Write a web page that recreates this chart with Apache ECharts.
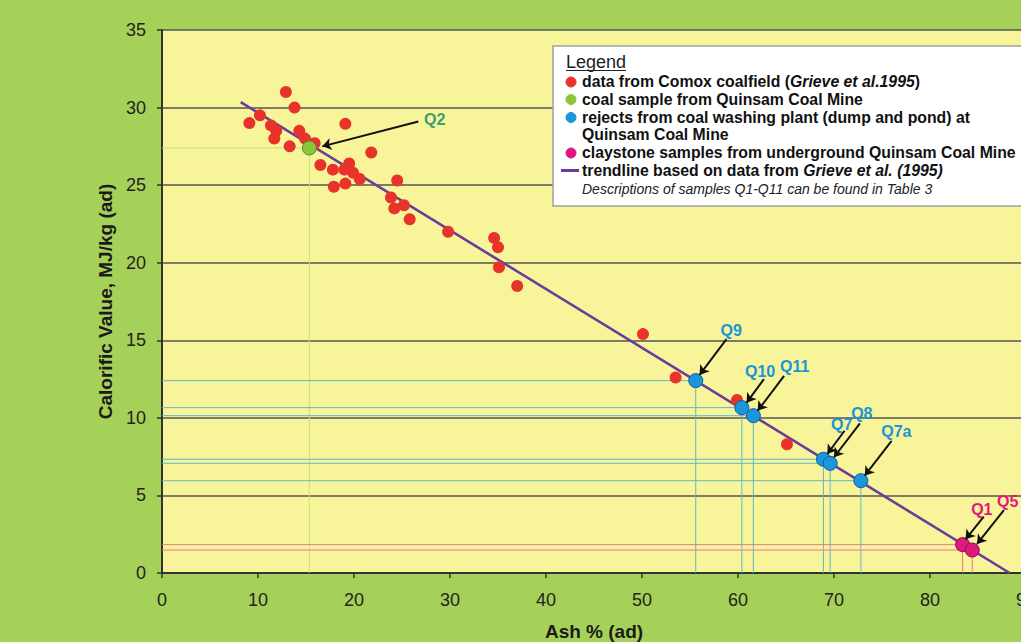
<!DOCTYPE html>
<html>
<head>
<meta charset="utf-8">
<script src="https://cdn.jsdelivr.net/npm/echarts@6/dist/echarts.min.js"></script>
<style>
html,body{margin:0;padding:0;background:#A6D158;}
#chart{width:1021px;height:642px;}
</style>
</head>
<body>
<div id="chart"></div>
<script>
// ---- data ----
const comoxAsh = [9.1,10.2,12.9,13.8,11.35,11.9,11.7,13.3,14.3,14.9,15.9,19.1,16.5,17.8,19.0,19.5,19.9,20.6,17.9,19.1,21.8,24.5,23.85,25.2,24.2,25.8,29.8,34.6,35.0,35.1,37.0,50.1,53.5,59.9,65.1];
const comoxCV  = [29.0,29.5,31.0,30.0,28.85,28.5,28.0,27.5,28.5,28.0,27.7,28.95,26.3,26.0,26.0,26.4,25.8,25.4,24.9,25.1,27.1,25.3,24.2,23.7,23.5,22.8,22.0,21.6,21.0,19.7,18.5,15.4,12.6,11.15,8.3];

const coalNames = ['Q2'];
const coalAsh = [15.35];
const coalCV = [27.4];

const rejectNames = ['Q9','Q10','Q11','Q7','Q8','Q7a'];
const rejectAsh = [55.6,60.4,61.6,68.9,69.6,72.8];
const rejectCV  = [12.4,10.66,10.14,7.33,7.07,5.95];

const clayNames = ['Q1','Q5'];
const clayAsh = [83.4,84.4];
const clayCV  = [1.83,1.48];

const trendAsh = [8.2, 88.3];
const trendCV  = [30.35, 0];

// annotation labels (data units) and arrows (tail -> head, data units)
const annoNames = ['Q2','Q9','Q10','Q11','Q7','Q8','Q7a','Q1','Q5'];
const annoGroup = ['coal','reject','reject','reject','reject','reject','reject','clay','clay'];
const annoLabelX = [28.4,59.3,62.3,65.9,70.8,72.9,76.5,85.4,88.1];
const annoLabelY = [29.2,15.6,13.0,13.3,9.6,10.25,9.1,4.1,4.6];
const arrowTailX = [26.7,58.8,62.7,64.8,71.1,72.7,76.0,85.6,87.7];
const arrowTailY = [29.1,15.07,12.5,12.7,9.17,9.65,8.51,3.63,4.06];
const arrowHeadX = [16.7,56.0,60.9,62.05,69.3,70.0,73.2,83.7,84.9];
const arrowHeadY = [27.5,12.77,10.98,10.46,7.67,7.46,6.27,2.17,1.87];

const xTicks = {min:0, max:90, interval:10};
const yTicks = {min:0, max:35, interval:5};

// ---- styles ----
const FONT = '"Liberation Sans", Arial, sans-serif';
const colors = {
  comox:'#E8332A',
  coal:'#8CC63F', coalBorder:'#4B8B22', coalText:'#3E9E73', coalDrop:'#C5E27C',
  reject:'#1C96DA', rejectBorder:'#0D5E9C', rejectText:'#1A95D6', rejectDrop:'#62B8C6',
  clay:'#E0177F', clayBorder:'#8E0E50', clayText:'#E0197D', clayDrop:'#E8788C',
  trend:'#6A3E98'
};

function zip(a,b){return a.map((v,i)=>[v,b[i]]);}

function dropSeries(xs, ys, color){
  return xs.map((x,i)=>({
    type:'line', silent:true, symbol:'none', z:1,
    lineStyle:{color:color, width:1},
    data:[[0,ys[i]],[x,ys[i]],[x,0]],
    animation:false
  }));
}

const textColorOf = {coal:colors.coalText, reject:colors.rejectText, clay:colors.clayText};

const series = [].concat(
  dropSeries(coalAsh, coalCV, colors.coalDrop),
  dropSeries(rejectAsh, rejectCV, colors.rejectDrop),
  dropSeries(clayAsh, clayCV, colors.clayDrop),
  [{
    type:'line', name:'trend', symbol:'none', z:3, silent:true,
    lineStyle:{color:colors.trend, width:2.6},
    data: zip(trendAsh, trendCV), animation:false
  },{
    type:'scatter', name:'comox', z:4, symbolSize:12,
    itemStyle:{color:colors.comox, opacity:1},
    data: zip(comoxAsh, comoxCV), animation:false
  },{
    type:'scatter', name:'coal', z:5, symbolSize:14,
    itemStyle:{color:colors.coal, borderColor:colors.coalBorder, borderWidth:1, opacity:1},
    data: zip(coalAsh, coalCV), animation:false
  },{
    type:'scatter', name:'reject', z:5, symbolSize:14,
    itemStyle:{color:colors.reject, borderColor:colors.rejectBorder, borderWidth:1, opacity:1},
    data: zip(rejectAsh, rejectCV), animation:false
  },{
    type:'scatter', name:'clay', z:5, symbolSize:14,
    itemStyle:{color:colors.clay, borderColor:colors.clayBorder, borderWidth:1, opacity:1},
    data: zip(clayAsh, clayCV), animation:false
  },{
    type:'lines', coordinateSystem:'cartesian2d', z:6, silent:true,
    symbol:['none','arrow'], symbolSize:9,
    lineStyle:{color:'#111', width:2, opacity:1},
    data: annoNames.map((n,i)=>({coords:[[arrowTailX[i],arrowTailY[i]],[arrowHeadX[i],arrowHeadY[i]]]})),
    animation:false
  },{
    type:'scatter', z:7, silent:true, symbolSize:1,
    itemStyle:{color:'rgba(0,0,0,0)'},
    data: annoNames.map((n,i)=>({
      value:[annoLabelX[i], annoLabelY[i]],
      label:{show:true, position:'inside', formatter:n, opacity:1,
        color:textColorOf[annoGroup[i]], fontSize:16, fontWeight:'bold', fontFamily:FONT}
    })),
    animation:false
  }]
);

// ---- legend box (graphic) ----
const LX = 553, LY = 46;
const itemFont = {fontSize:15.8, fontWeight:'bold', fontFamily:FONT, fill:'#111'};
const rich = {
  b: Object.assign({}, itemFont),
  bi: Object.assign({}, itemFont, {fontStyle:'italic'})
};
function legText(y, text){
  return {type:'text', x:582, y:y, z:101,
    style:{text:text, rich:rich, fill:'#111', font:'bold 15.8px '+FONT, verticalAlign:'middle'}};
}
function legDot(y, fill, stroke){
  return {type:'circle', shape:{cx:571, cy:y, r:5}, z:101,
    style:{fill:fill, stroke:stroke||fill, lineWidth:1}};
}
const graphic = [
  {type:'rect', shape:{x:LX, y:LY, width:520, height:160}, z:100,
    style:{fill:'#ffffff', stroke:'#A0A0A0', lineWidth:1.5}},
  {type:'text', x:566, y:62, z:101, style:{text:'Legend', font:'18px '+FONT, fill:'#222', verticalAlign:'middle'}},
  {type:'line', shape:{x1:566, y1:70.5, x2:626, y2:70.5}, z:101, style:{stroke:'#222', lineWidth:1}},
  legDot(82, colors.comox),
  legText(81, '{b|data from Comox coalfield (}{bi|Grieve et al.1995}{b|)}'),
  legDot(99.5, colors.coal),
  legText(99, '{b|coal sample from Quinsam Coal Mine}'),
  legDot(117.5, colors.reject),
  legText(117, '{b|rejects from coal washing plant (dump and pond) at}'),
  legText(134.5, '{b|Quinsam Coal Mine}'),
  legDot(153, colors.clay),
  legText(152.5, '{b|claystone samples from underground Quinsam Coal Mine}'),
  {type:'line', shape:{x1:561, y1:170.5, x2:579, y2:170.5}, z:101, style:{stroke:colors.trend, lineWidth:3}},
  legText(170, '{b|trendline based on data from }{bi|Grieve et al. (1995)}'),
  {type:'text', x:582, y:189, z:101,
    style:{text:'Descriptions of samples Q1-Q11 can be found in Table 3', font:'italic 14px '+FONT, fill:'#222', verticalAlign:'middle'}}
];

const chart = echarts.init(document.getElementById('chart'), null, {renderer:'svg'});
chart.setOption({
  backgroundColor:'#A6D158',
  animation:false,
  grid:{left:162, top:30, width:864, height:543, show:true, backgroundColor:'#F8F49A', borderWidth:0,
    outerBoundsMode:'none', containLabel:false},
  xAxis:{
    type:'value', min:xTicks.min, max:xTicks.max, interval:xTicks.interval,
    name:'Ash % (ad)', nameLocation:'middle', nameGap:48.5,
    nameTextStyle:{fontSize:19, fontWeight:'bold', color:'#1a1a1a', fontFamily:FONT},
    axisLine:{show:true, onZero:false, lineStyle:{color:'#333', width:2}},
    axisTick:{show:true, length:5, lineStyle:{color:'#333', width:1.5}},
    axisLabel:{fontSize:18, color:'#222', margin:18, fontFamily:FONT},
    splitLine:{show:false}
  },
  yAxis:{
    type:'value', min:yTicks.min, max:yTicks.max, interval:yTicks.interval,
    name:'Calorific Value, MJ/kg (ad)', nameLocation:'middle', nameGap:46.5,
    nameTextStyle:{fontSize:19, fontWeight:'bold', color:'#1a1a1a', fontFamily:FONT},
    axisLine:{show:true, onZero:false, lineStyle:{color:'#333', width:2}},
    axisTick:{show:true, length:5, lineStyle:{color:'#333', width:1.5}},
    axisLabel:{fontSize:18, color:'#222', margin:16, fontFamily:FONT},
    splitLine:{show:true, lineStyle:{color:'#555', width:1.5}}
  },
  graphic: graphic,
  series: series
});
</script>
</body>
</html>
